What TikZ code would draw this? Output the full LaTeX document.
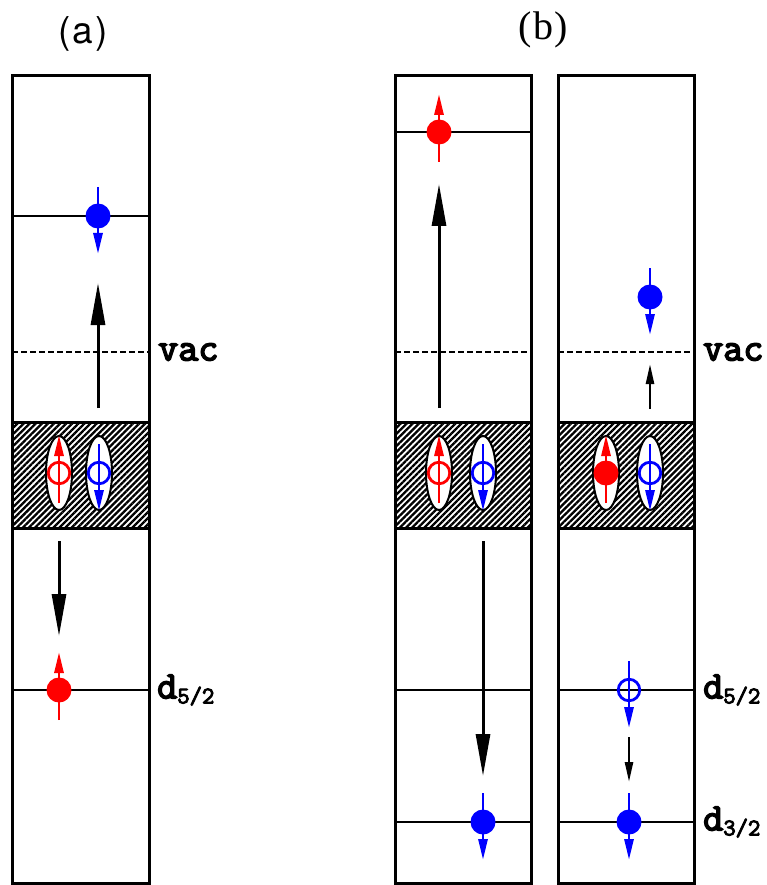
\documentclass[tikz,border=0pt]{standalone}
\usepackage{fontspec}
\setmainfont{Liberation Serif}
\newfontfamily\asans{TeX Gyre Heros}
\newfontfamily\labmono{Latin Modern Mono}[FakeBold=4]
\usetikzlibrary{arrows.meta,patterns.meta,shapes.geometric}
\tikzset{
  box/.style={draw, line width=3pt},
  level/.style={line width=2.4pt},
  dashlevel/.style={line width=2pt, dash pattern=on 6pt off 3pt},
  bigarrow/.style={line width=3pt, -{Triangle[length=42pt,width=14pt]}},
  smallarrow/.style={line width=2.5pt, -{Triangle[length=20pt,width=8pt]}},
  spinarrow/.style={line width=2.8pt, draw=#1, -{Triangle[length=21pt,width=9pt]}},
  efull/.style={circle, fill=#1, minimum size=25pt, inner sep=0pt},
  eopen/.style={circle, draw=#1, line width=2.8pt, minimum size=21.5pt, inner sep=0pt},
  pairell/.style={ellipse, draw, fill=white, line width=2pt, minimum width=26pt, minimum height=74pt, inner sep=0pt},
  hatch/.style={draw, line width=3pt, pattern={Lines[angle=45,distance=4.3pt,line width=2.3pt]}},
  lab/.style={font=\labmono\fontsize{39}{39}\selectfont, anchor=west, inner sep=0pt},
}
\newcommand{\spinup}[3]{\draw[spinarrow=#1] (#2,#3+30) -- (#2,#3-38);}
\newcommand{\spindown}[3]{\draw[spinarrow=#1] (#2,#3-29) -- (#2,#3+38);}
\newcommand{\lsub}[1]{\raisebox{-5pt}{\fontsize{24}{24}\selectfont #1}}
\begin{document}
\begin{tikzpicture}[x=1pt,y={(0pt,-1pt)}]
\useasboundingbox (0,0) rectangle (767,885);
% panel labels
\node[font=\asans\fontsize{37}{37}\selectfont] (la) at (83,34) {(\kern2pt a\kern2pt)};
\node[font=\rmfamily\fontsize{40}{40}\selectfont] (lb) at (543,30) {(\kern1pt b\kern1pt)};

% ===== panel (a)
\draw[box] (12,76) rectangle (149,883);
\draw[hatch] (12,422) rectangle (149,528);
\draw[level] (12,216) -- (149,216);
\draw[dashlevel] (12,352) -- (149,352);
\draw[level] (12,690) -- (149,690);
\node[lab] (vaca) at (158,352) {vac};
\node[lab] (da) at (157,690) {d\lsub{5/2}};
% electrons
\spindown{blue}{98}{216}
\node[efull=blue] (ea1) at (98,216) {};
\spinup{red}{59}{690}
\node[efull=red] (ea2) at (59,690) {};
% pair
\node[pairell] (pa1) at (59,473) {};
\node[pairell] (pa2) at (99,473) {};
\node[eopen=red] (ha1) at (59,473) {};
\node[eopen=blue] (ha2) at (99,473) {};
\spinup{red}{59}{473}
\spindown{blue}{99}{473}
% arrows
\coordinate (a1s) at (98,408); \coordinate (a1e) at (98,283);
\coordinate (a2s) at (59,541); \coordinate (a2e) at (59,636);
\draw[bigarrow] (a1s) -- (a1e);
\draw[bigarrow] (a2s) -- (a2e);

% ===== panel (b) left
\draw[box] (395,76) rectangle (531,883);
\draw[hatch] (395,422) rectangle (531,528);
\draw[level] (395,132) -- (531,132);
\draw[dashlevel] (395,352) -- (531,352);
\draw[level] (395,690) -- (531,690);
\draw[level] (395,822) -- (531,822);
\spinup{red}{439}{132}
\node[efull=red] (eb1) at (439,132) {};
\spindown{blue}{483}{822}
\node[efull=blue] (eb2) at (483,822) {};
\node[pairell] (pb1) at (439,473) {};
\node[pairell] (pb2) at (483,473) {};
\node[eopen=red] (hb1) at (439,473) {};
\node[eopen=blue] (hb2) at (483,473) {};
\spinup{red}{439}{473}
\spindown{blue}{483}{473}
\coordinate (b1s) at (439,408); \coordinate (b1e) at (439,184);
\coordinate (b2s) at (483,541); \coordinate (b2e) at (483,776);
\draw[bigarrow] (b1s) -- (b1e);
\draw[bigarrow] (b2s) -- (b2e);

% ===== panel (b) right
\draw[box] (558,76) rectangle (694,883);
\draw[hatch] (558,422) rectangle (694,528);
\draw[dashlevel] (558,352) -- (694,352);
\draw[level] (558,690) -- (694,690);
\draw[level] (558,822) -- (694,822);
\node[lab] (vacb) at (703,352) {vac};
\node[lab] (dc1) at (703,690) {d\lsub{5/2}};
\node[lab] (dc2) at (703,822) {d\lsub{3/2}};
\spindown{blue}{650}{297}
\node[efull=blue] (ec1) at (650,297) {};
\node[eopen=blue] (hc1) at (629,690) {};
\spindown{blue}{629}{690}
\spindown{blue}{629}{822}
\node[efull=blue] (ec2) at (629,822) {};
\node[pairell] (pc1) at (606,473) {};
\node[pairell] (pc2) at (650,473) {};
\spinup{red}{606}{473}
\node[efull=red] (ec3) at (606,473) {};
\node[eopen=blue] (hc2) at (650,473) {};
\spindown{blue}{650}{473}
\coordinate (c1s) at (650,409); \coordinate (c1e) at (650,364);
\coordinate (c2s) at (629,737); \coordinate (c2e) at (629,782);
\draw[smallarrow] (c1s) -- (c1e);
\draw[smallarrow] (c2s) -- (c2e);
\end{tikzpicture}
\end{document}
